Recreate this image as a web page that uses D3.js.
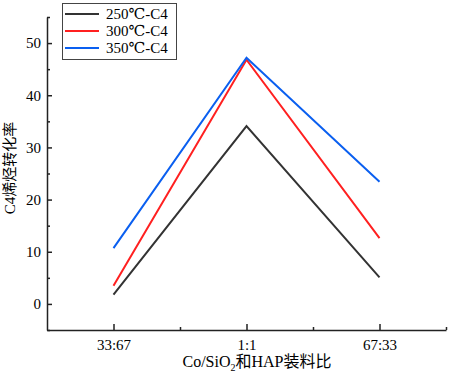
<!DOCTYPE html>
<html>
<head>
<meta charset="utf-8">
<script src="https://cdn.jsdelivr.net/npm/d3@7"></script>
<style>
  body { margin: 0; background: #fff; }
  svg text { font-family: "Liberation Serif", "Times New Roman", "DejaVu Serif", "Noto Sans CJK SC", serif; fill: #000; }
</style>
</head>
<body>
<div id="chart"></div>
<script>
// categories along the x axis
const categories = ['33:67', '1:1', '67:33'];
// one series per temperature
const seriesNames = ['250℃-C4', '300℃-C4', '350℃-C4'];
const seriesColors = ['#333333', '#ff2020', '#0a5ff0'];
const values250 = [1.8, 34.1, 5.1];
const values300 = [3.5, 46.8, 12.6];
const values350 = [10.7, 47.2, 23.4];
const yTicks = [0, 10, 20, 30, 40, 50];

const series = [values250, values300, values350];

const width = 449, height = 378;
const margin = {left: 47, right: 3, top: 17, bottom: 48};
const serif = '"Liberation Serif", "Times New Roman", "DejaVu Serif", "Noto Sans CJK SC", serif';

const svg = d3.select('#chart').append('svg')
    .attr('width', width)
    .attr('height', height);

let x = d3.scaleLinear()
    .domain([0.5, 3.5])
    .range([margin.left, width - margin.right]);

let y = d3.scaleLinear()
    .domain([-5, 55])
    .range([height - margin.bottom, margin.top]);

// Axes (ticks point inward like Origin)
svg.append('g')
    .attr('transform', `translate(${margin.left}, 0)`)
    .call(d3.axisLeft(y).tickValues(yTicks).tickSizeInner(-5).tickSizeOuter(0).tickPadding(6));

svg.append('g')
    .attr('transform', `translate(${margin.left}, 0)`)
    .call(d3.axisLeft(y).tickValues(d3.range(-5, 56, 10)).tickSizeInner(-3).tickSizeOuter(0).tickFormat(''))
    .select('.domain').remove();

svg.append('g')
    .attr('transform', `translate(0, ${height - margin.bottom})`)
    .call(d3.axisBottom(x).tickValues([1, 2, 3]).tickFormat((d, i) => categories[i])
        .tickSizeInner(-6).tickSizeOuter(0).tickPadding(9));

svg.append('g')
    .attr('transform', `translate(0, ${height - margin.bottom})`)
    .call(d3.axisBottom(x).tickValues([1.5, 2.5, 3.5]).tickSizeInner(-3).tickSizeOuter(0).tickFormat(''))
    .select('.domain').remove();

svg.selectAll('g').attr('font-family', serif);

svg.selectAll('.domain, .tick line')
    .attr('stroke', '#222')
    .attr('stroke-width', 1.5);

svg.selectAll('.tick text')
    .attr('font-size', 15);

// Lines
let line = d3.line()
    .x((d, i) => x(i + 1))
    .y(d => y(d));

svg.selectAll('path.series')
    .data(series)
    .join('path')
        .attr('class', 'series')
        .attr('d', line)
        .attr('fill', 'none')
        .attr('stroke', (d, i) => seriesColors[i])
        .attr('stroke-width', 2);

// Axis titles
svg.append('text')
    .attr('transform', `translate(15, 168) rotate(-90)`)
    .attr('text-anchor', 'middle')
    .attr('font-size', 15)
    .text('C4烯烃转化率');

let xt = svg.append('text')
    .attr('x', 257)
    .attr('y', 367)
    .attr('text-anchor', 'middle')
    .attr('font-size', 16);
xt.append('tspan').text('Co/SiO');
xt.append('tspan').attr('font-size', 10).attr('dy', 4).text('2');
xt.append('tspan').attr('dy', -4).text('和HAP装料比');

// Legend
let legend = svg.append('g');
legend.append('rect')
    .attr('x', 62.5).attr('y', 3.5)
    .attr('width', 114).attr('height', 56)
    .attr('fill', '#fff')
    .attr('stroke', '#444')
    .attr('stroke-width', 1);

let rows = legend.selectAll('g.row')
    .data(seriesNames)
    .join('g')
        .attr('class', 'row')
        .attr('transform', (d, i) => `translate(0, ${14 + i * 17})`);

rows.append('line')
    .attr('x1', 65).attr('x2', 99)
    .attr('stroke', (d, i) => seriesColors[i])
    .attr('stroke-width', 2);

rows.append('text')
    .attr('x', 106)
    .attr('dy', '0.35em')
    .attr('font-size', 15)
    .text(d => d);
</script>
</body>
</html>
